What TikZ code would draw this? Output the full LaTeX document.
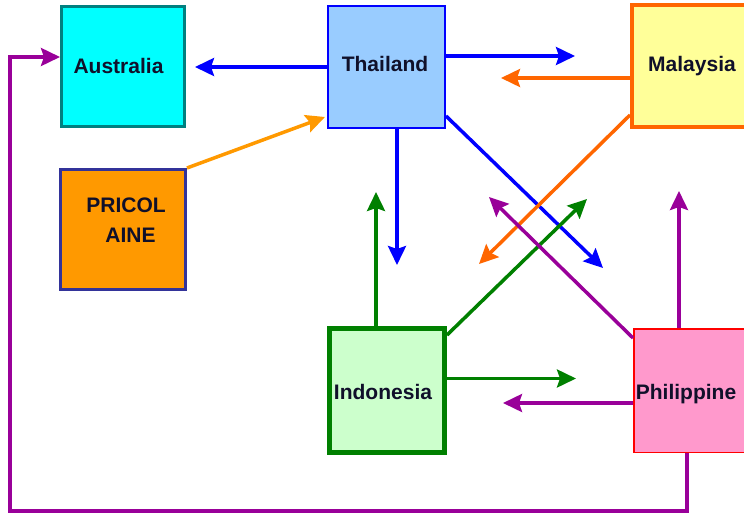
\documentclass[tikz,border=0pt]{standalone}
\usepackage{fontspec}
\setmainfont{Liberation Sans}
\usetikzlibrary{arrows.meta}
\definecolor{ausfill}{HTML}{00FFFF}
\definecolor{ausline}{HTML}{008080}
\definecolor{thaifill}{HTML}{99CCFF}
\definecolor{thailine}{HTML}{0000FF}
\definecolor{malfill}{HTML}{FFFF99}
\definecolor{malline}{HTML}{FF6600}
\definecolor{prifill}{HTML}{FF9900}
\definecolor{priline}{HTML}{333399}
\definecolor{indofill}{HTML}{CCFFCC}
\definecolor{indoline}{HTML}{008000}
\definecolor{philfill}{HTML}{FF99CC}
\definecolor{philline}{HTML}{FF0000}
\definecolor{cblue}{HTML}{0000FF}
\definecolor{corange}{HTML}{FF6600}
\definecolor{clorange}{HTML}{FF9900}
\definecolor{cgreen}{HTML}{008000}
\definecolor{cpurple}{HTML}{990099}
\definecolor{txtcol}{HTML}{10102A}
\begin{document}
\begin{tikzpicture}[x=1pt,y=-1pt,
  box/.style={draw, rectangle, inner sep=0pt},
  lbl/.style={font=\bfseries\fontsize{21}{25}\selectfont, text=txtcol, inner sep=0pt, anchor=base},
  arr/.style={line width=3.5pt, -{Stealth[length=19pt,width=18pt,inset=3pt]}}
]
\useasboundingbox (0,0) rectangle (744,514);

% boxes
\node[box, fill=ausfill, draw=ausline, line width=3pt, minimum width=123pt, minimum height=120pt] (aus) at (123,66.5) {};
\node[box, fill=thaifill, draw=thailine, line width=2pt, minimum width=117pt, minimum height=122pt] (thai) at (386.5,67) {};
\node[box, fill=malfill, draw=malline, line width=4pt, minimum width=124pt, minimum height=122pt] (mal) at (694,66) {};
\node[box, fill=prifill, draw=priline, line width=3pt, minimum width=125pt, minimum height=120pt] (pri) at (123,229.5) {};
\node[box, fill=indofill, draw=indoline, line width=5pt, minimum width=115pt, minimum height=124pt] (indo) at (387,390.5) {};
\node[box, fill=philfill, draw=philline, line width=1.5pt, minimum width=122.5pt, minimum height=123.5pt] (phil) at (695,390.5) {};

% texts
\node[lbl] (austxt) at (118.5,73) {Australia};
\node[lbl] (thaitxt) at (385,71) {Thailand};
\node[lbl] (maltxt) at (692,71) {Malaysia};
\node[lbl] (pritxt) at (126,212) {PRICOL};
\node[lbl] (pritxtb) at (130.5,242) {AINE};
\node[lbl] (indotxt) at (383,399) {Indonesia};
\node[lbl] (philtxt) at (686,399) {Philippine};

% arrow tips
\coordinate (t1) at (195,67);
\coordinate (t2) at (575,56);
\coordinate (t3) at (501,78);
\coordinate (t4) at (325,117);
\coordinate (t5) at (397,265);
\coordinate (t6) at (603,268);
\coordinate (t7) at (479,264);
\coordinate (t8) at (376,192);
\coordinate (t9) at (587,199);
\coordinate (t10) at (576,378.5);
\coordinate (t11) at (489,197);
\coordinate (t12) at (679,191);
\coordinate (t13) at (503,403);
\coordinate (bl) at (10,511);

% connectors
\draw[arr, cblue] (thai.west) -- (t1);
\draw[arr, cblue] ([yshift=11pt]thai.east) -- (t2);
\draw[arr, corange] ([yshift=-12pt]mal.west) -- (t3);
\draw[arr, clorange] (pri.north east) -- (t4);
\draw[arr, cblue] ([xshift=10.5pt]thai.south) -- (t5);
\draw[arr, cblue] ([yshift=13pt]thai.south east) -- (t6);
\draw[arr, corange] ([yshift=14pt]mal.south west) -- (t7);
\draw[arr, cgreen] ([xshift=-11pt]indo.north) -- (t8);
\draw[arr, cgreen] ([yshift=-9pt]indo.north east) -- (t9);
\draw[arr, cgreen] ([yshift=12pt]indo.east) -- (t10);
\draw[arr, cpurple] ([yshift=-10pt]phil.north west) -- (t11);
\draw[arr, cpurple] ([xshift=-16pt]phil.north) -- (t12);
\draw[arr, cpurple] ([yshift=-12.5pt]phil.west) -- (t13);
\draw[arr, cpurple] ([xshift=-8pt]phil.south) |- (bl) |- ([yshift=9.5pt]aus.west);
\end{tikzpicture}
\end{document}
